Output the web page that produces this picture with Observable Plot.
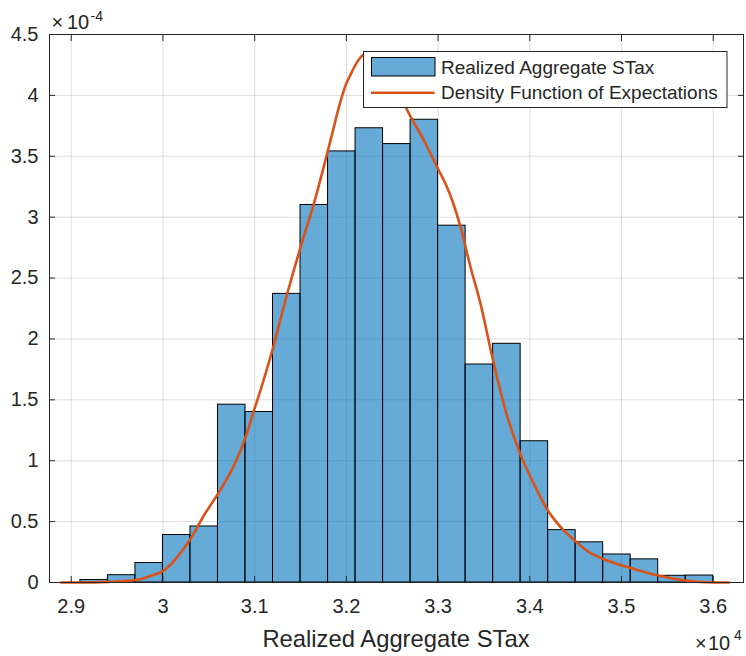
<!DOCTYPE html>
<html><head><meta charset="utf-8">
<script src="https://cdn.jsdelivr.net/npm/d3@7"></script>
<script src="https://cdn.jsdelivr.net/npm/@observablehq/plot@0.6"></script>
<style>
html,body{margin:0;padding:0;background:#fff;}
#chart{width:746px;height:656px;}
</style>
</head><body><div id="chart"></div>
<script>
// Histogram bin edges (Realized Aggregate STax) and densities (x 1e-4)
const binEdges = [29100, 29400, 29700, 30000, 30300, 30600, 30900, 31200, 31500, 31800, 32100, 32400,
                  32700, 33000, 33300, 33600, 33900, 34200, 34500, 34800, 35100, 35400, 35700, 36000];
const binHeights = [0.02, 0.06, 0.16, 0.39, 0.46, 1.46, 1.40, 2.37, 3.10, 3.54, 3.73, 3.60,
                    3.80, 2.93, 1.79, 1.96, 1.16, 0.43, 0.33, 0.23, 0.19, 0.055, 0.057];
// Density function of expectations (x 1e-4)
const curveX = [28890, 29100, 29400, 29720, 29865, 30010, 30156, 30301, 30446, 30599, 30737, 30846,
                30919, 30991, 31028, 31192, 31355, 31500, 31645, 31827, 31936, 31990, 32045, 32119, 32191,
                32300, 32480, 32656, 32845, 33008, 33081, 33154, 33245, 33354, 33463, 33591, 33736,
                33899, 34044, 34197, 34353, 34502, 34644, 34793, 35091, 35396, 35698, 36007, 36170];
const curveY = [0, 0, 0.005, 0.022, 0.055, 0.098, 0.208, 0.359, 0.55, 0.728, 0.906, 1.084,
                1.234, 1.412, 1.495, 1.905, 2.371, 2.753, 3.11, 3.63, 3.95, 4.08, 4.17, 4.275, 4.335,
                4.35, 4.2, 3.89, 3.63, 3.383, 3.274, 3.137, 2.918, 2.589, 2.288, 1.85, 1.412,
                1.05, 0.81, 0.591, 0.441, 0.337, 0.249, 0.195, 0.121, 0.057, 0.016, 0, 0];
const xTicks = [29000, 30000, 31000, 32000, 33000, 34000, 35000, 36000];
const yTicks = [0, 0.5, 1, 1.5, 2, 2.5, 3, 3.5, 4, 4.5];
const seriesNames = ["Realized Aggregate STax", "Density Function of Expectations"];
const xLabel = "Realized Aggregate STax";

const bars = binHeights.map((h, i) => ({x1: binEdges[i], x2: binEdges[i + 1], y: h}));
const curve = curveX.map((x, i) => ({x, y: curveY[i]}));

const ink = "#262626";
const barColor = "#0072BD";
const lineColor = "#D95319";
const font = "'Liberation Sans', Arial, Helvetica, sans-serif";
const fmtX = d => String(Math.round(d / 1000) / 10);
const fmtY = d => String(Math.round(d * 10) / 10);

const plot = Plot.plot({
  width: 746, height: 656,
  marginLeft: 49, marginRight: 3, marginTop: 34, marginBottom: 74,
  style: {fontFamily: font, fontSize: "20px", color: ink, background: "#fff"},
  x: {domain: [28763, 36330]},
  y: {domain: [0, 4.5]},
  marks: [
    Plot.gridX(xTicks, {stroke: "#000", strokeOpacity: 0.13}),
    Plot.gridY(yTicks, {stroke: "#000", strokeOpacity: 0.13}),
    Plot.rect(bars, {x1: "x1", x2: "x2", y1: 0, y2: "y", fill: barColor, fillOpacity: 0.6, stroke: "#000", strokeWidth: 1}),
    Plot.line(curve, {x: "x", y: "y", stroke: lineColor, strokeWidth: 2.6, curve: "monotone-x"}),
    Plot.axisX(xTicks, {anchor: "bottom", tickSize: 6, dy: -6, tickPadding: 16, tickFormat: fmtX, label: null, color: ink}),
    Plot.axisX(xTicks, {anchor: "top", tickSize: 6, dy: 6, tickFormat: () => "", label: null, color: ink}),
    Plot.axisY(yTicks, {anchor: "left", tickSize: 6, dx: 6, tickPadding: 11, tickFormat: fmtY, label: null, color: ink}),
    Plot.axisY(yTicks, {anchor: "right", tickSize: 6, dx: -6, tickFormat: () => "", label: null, color: ink}),
    Plot.frame({stroke: ink})
  ]
});

const svg = d3.select(plot);
const t = svg.append("g").attr("font-family", font).attr("fill", ink).attr("text-anchor", "start");
// exponent labels
const e1 = t.append("text").attr("y", 29).attr("font-size", 20);
e1.append("tspan").attr("x", 51.5).text("\u00d7");
e1.append("tspan").attr("x", 67).text("10");
t.append("text").attr("x", 90.5).attr("y", 20.5).attr("font-size", 14).text("-4");
const e2 = t.append("text").attr("y", 650).attr("font-size", 20);
e2.append("tspan").attr("x", 695).text("\u00d7");
e2.append("tspan").attr("x", 708).text("10");
t.append("text").attr("x", 734).attr("y", 640).attr("font-size", 14).text("4");
// x axis title
t.append("text").attr("x", 396).attr("y", 646.7).attr("text-anchor", "middle").attr("font-size", 23.8).text(xLabel);

// legend
const lg = svg.append("g").attr("font-family", font).attr("font-size", 19).attr("fill", ink).attr("text-anchor", "start");
lg.append("rect").attr("x", 363.5).attr("y", 51.5).attr("width", 363.5).attr("height", 56)
  .attr("fill", "#fff").attr("stroke", ink).attr("stroke-width", 1);
lg.append("rect").attr("x", 371.5).attr("y", 57.5).attr("width", 63.5).attr("height", 18.5)
  .attr("fill", barColor).attr("fill-opacity", 0.6).attr("stroke", "#000");
lg.append("line").attr("x1", 371).attr("x2", 434.5).attr("y1", 92.7).attr("y2", 92.7)
  .attr("stroke", lineColor).attr("stroke-width", 2.6);
lg.append("text").attr("x", 441).attr("y", 74.3).text(seriesNames[0]);
lg.append("text").attr("x", 441).attr("y", 99.3).text(seriesNames[1]);

document.getElementById("chart").appendChild(plot);
</script>
</body></html>
